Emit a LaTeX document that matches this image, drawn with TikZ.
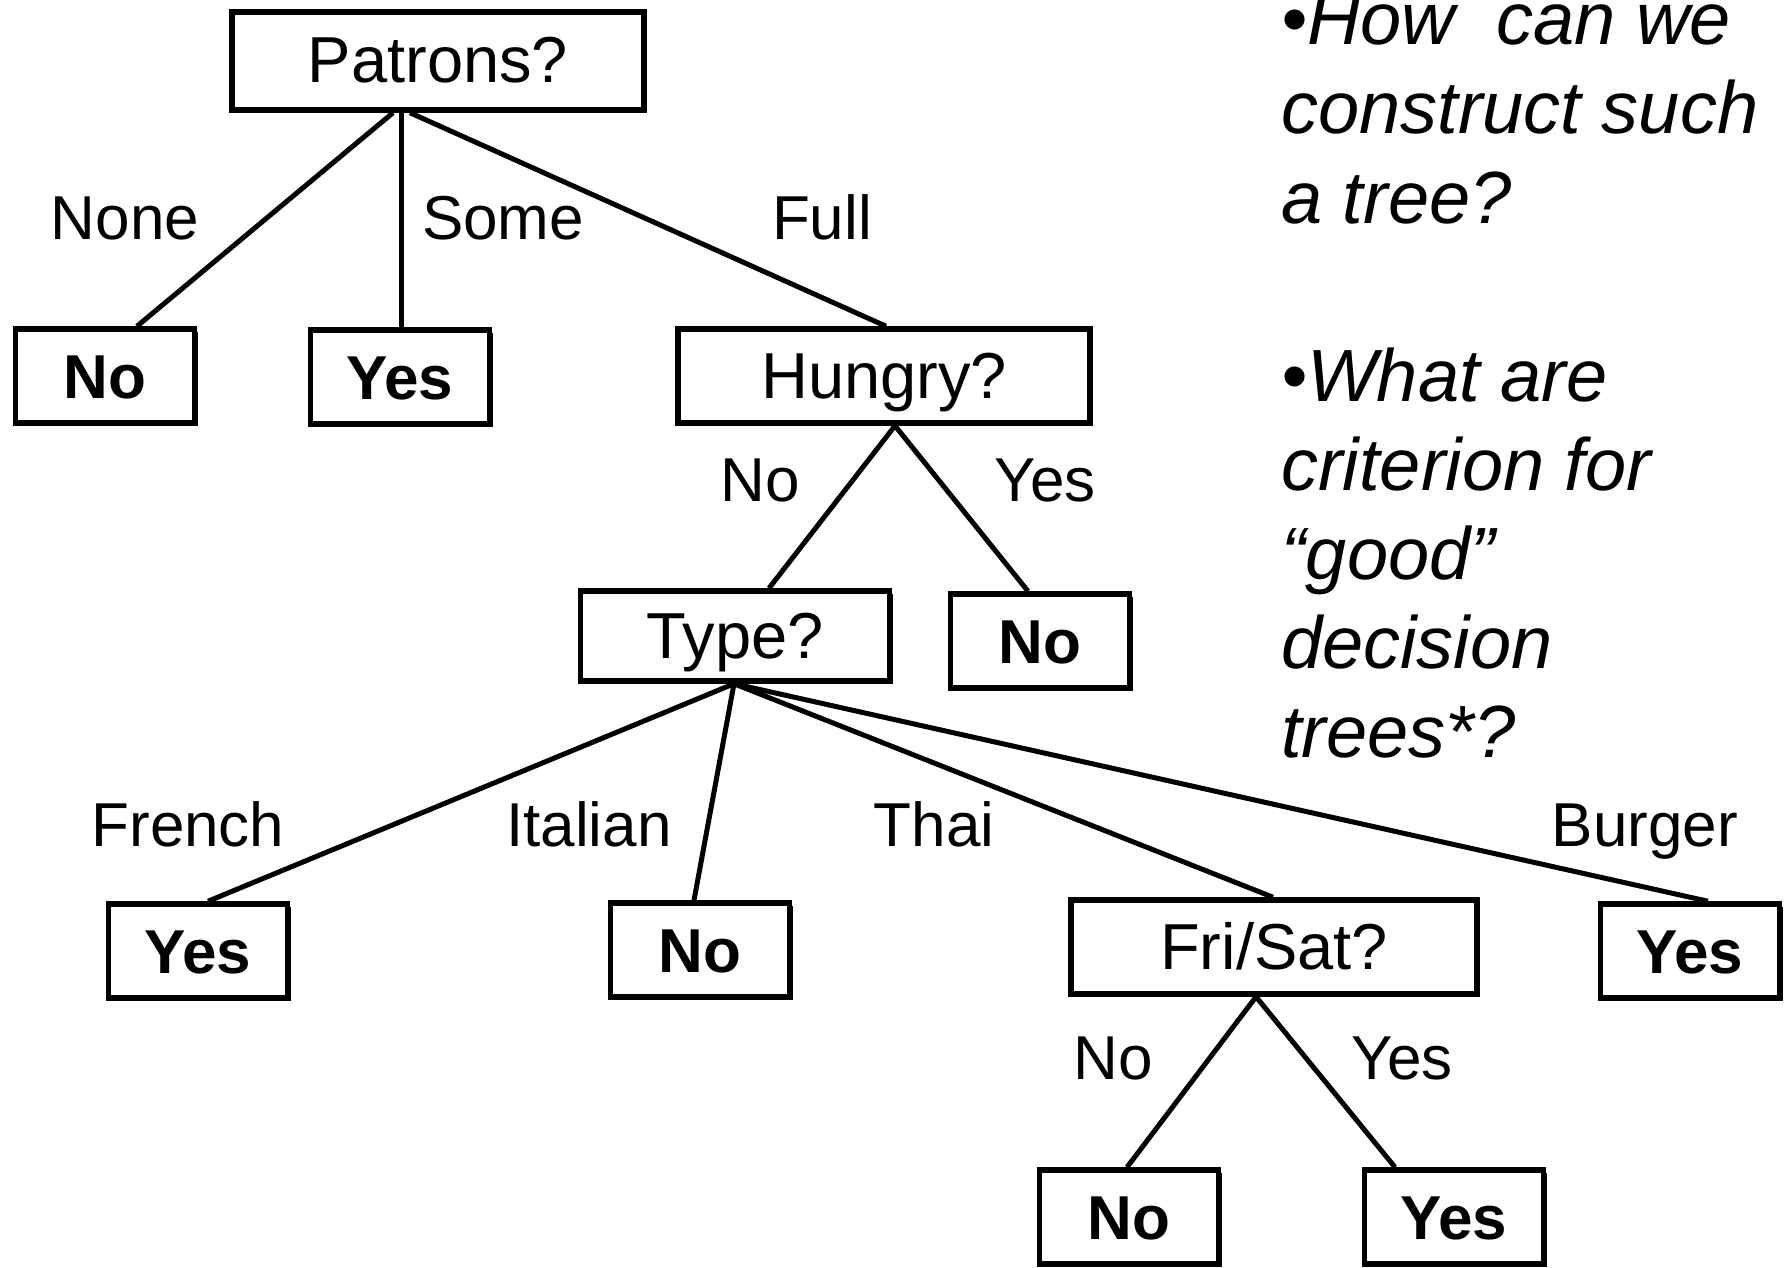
\documentclass[tikz,border=0pt]{standalone}
\usepackage{fontspec}
\setmainfont{Liberation Sans}
\usetikzlibrary{shadows}

\begin{document}
\begin{tikzpicture}[x=1pt,y=-1pt,
  box/.style={draw, line width=5.5pt, fill=white, inner sep=0pt,
    text height=44pt, text depth=0pt,
    drop shadow={shadow xshift=3pt, shadow yshift=-3pt, opacity=1, fill=black}},
  qbox/.style={box, font=\fontsize{65}{72}\selectfont, minimum height=94pt},
  leaf/.style={box, font=\bfseries\fontsize{62}{70}\selectfont,
    minimum width=179pt, minimum height=94pt},
  edge/.style={line width=5pt},
  lab/.style={font=\fontsize{62}{70}\selectfont, anchor=base, inner sep=0pt},
  note/.style={font=\itshape\fontsize{74}{89}\selectfont, anchor=base west, inner sep=0pt}
]
\useasboundingbox (0,0) rectangle (1785,1268);

% decision nodes
\node[qbox, minimum width=412pt, minimum height=98pt] (patrons) at (438,61) {Patrons?};
\node[qbox, minimum width=412pt] (hungry) at (884,376) {Hungry?};
\node[qbox, minimum width=309pt, minimum height=90pt] (type) at (735,636) {Type?};
\node[qbox, minimum width=406pt] (frisat) at (1274,947) {Fri/Sat?};

% leaves
\node[leaf] (no1) at (105,376) {No};
\node[leaf] (yes1) at (400,377) {Yes};
\node[leaf] (no2) at (1040,641) {No};
\node[leaf] (yesF) at (198,951) {Yes};
\node[leaf] (noI) at (700,950) {No};
\node[leaf] (yesB) at (1690,951) {Yes};
\node[leaf] (no3) at (1129,1217) {No};
\node[leaf] (yes3) at (1454,1217) {Yes};

% branches
\draw[edge] ([xshift=-45pt]patrons.south) -- ([xshift=32pt]no1.north);
\draw[edge] ([xshift=-37pt]patrons.south) -- ([xshift=1pt]yes1.north);
\draw[edge] ([xshift=-28pt]patrons.south) -- ([xshift=2pt]hungry.north);

\draw[edge] ([xshift=11pt]hungry.south) -- ([xshift=34pt]type.north);
\draw[edge] ([xshift=11pt]hungry.south) -- ([xshift=-12pt]no2.north);

\draw[edge] ([xshift=-1pt]type.south) -- ([xshift=10pt]yesF.north);
\draw[edge] ([xshift=-1pt]type.south) -- ([xshift=-6pt]noI.north);
\draw[edge] ([xshift=-1pt]type.south) -- ([xshift=-1pt]frisat.north);
\draw[edge] ([xshift=-1pt]type.south) -- ([xshift=18pt]yesB.north);

\draw[edge] ([xshift=-18pt]frisat.south) -- ([xshift=-2pt]no3.north);
\draw[edge] ([xshift=-18pt]frisat.south) -- ([xshift=-59pt]yes3.north);

% branch labels
\node[lab] (lNone) at (125,240) {None};
\node[lab] (lSome) at (503,240) {Some};
\node[lab] (lFull) at (822,240) {Full};
\node[lab] (lHNo) at (760,501) {No};
\node[lab] (lHYes) at (1045,501) {Yes};
\node[lab] (lFrench) at (188,846) {French};
\node[lab] (lItalian) at (589,846) {Italian};
\node[lab] (lThai) at (934,846) {Thai};
\node[lab] (lBurger) at (1645,846) {Burger};
\node[lab] (lFNo) at (1113,1079) {No};
\node[lab] (lFYes) at (1402,1079) {Yes};

% questions at the right
\node[note] (q1a) at (1281,45) {•How\ \ can we};
\node[note] (q1b) at (1281,134) {construct such};
\node[note] (q1c) at (1281,223) {a tree?};
\node[note] (q2a) at (1281,401) {•What are};
\node[note] (q2b) at (1281,490) {criterion for};
\node[note] (q2c) at (1281,579) {“good”};
\node[note] (q2d) at (1281,668) {decision};
\node[note] (q2e) at (1281,757) {trees*?};
\end{tikzpicture}
\end{document}
